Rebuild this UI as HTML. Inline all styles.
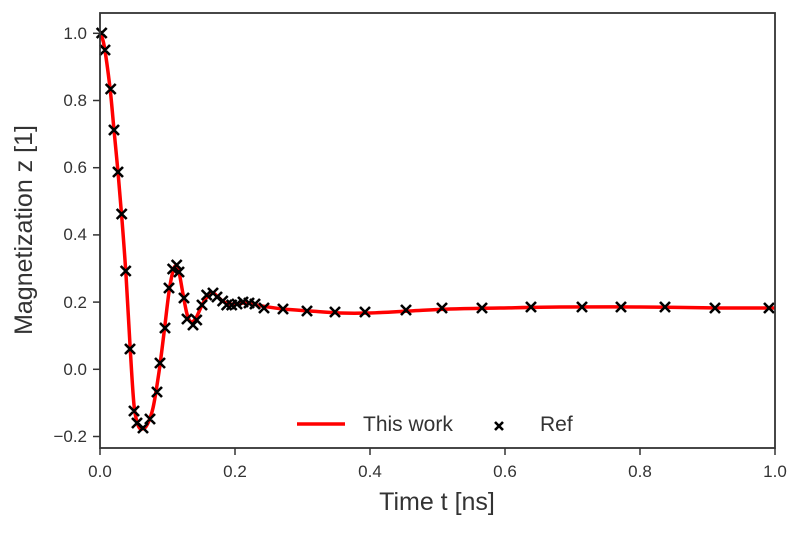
<!DOCTYPE html>
<html><head><meta charset="utf-8"><style>
body{margin:0;background:#fff}
text{font-family:"Liberation Sans",sans-serif;fill:#333}
</style></head><body>
<svg id="s" width="800" height="529" xmlns="http://www.w3.org/2000/svg">
<g id="curve"></g>
<g id="marks" stroke="#000" stroke-width="2.6" fill="none"></g>
<rect x="100" y="13" width="675" height="435" fill="none" stroke="#333" stroke-width="1.8"/>
<g stroke="#333" stroke-width="1.5">
<line x1="100" y1="448" x2="100" y2="455"/><line x1="235" y1="448" x2="235" y2="455"/><line x1="370" y1="448" x2="370" y2="455"/><line x1="505" y1="448" x2="505" y2="455"/><line x1="640" y1="448" x2="640" y2="455"/><line x1="775" y1="448" x2="775" y2="455"/>
<line x1="93" y1="33.3" x2="100" y2="33.3"/><line x1="93" y1="100.5" x2="100" y2="100.5"/><line x1="93" y1="167.7" x2="100" y2="167.7"/><line x1="93" y1="234.9" x2="100" y2="234.9"/><line x1="93" y1="302.1" x2="100" y2="302.1"/><line x1="93" y1="369.3" x2="100" y2="369.3"/><line x1="93" y1="436.5" x2="100" y2="436.5"/>
</g>
<g font-size="17" text-anchor="middle">
<text x="100" y="477">0.0</text><text x="235" y="477">0.2</text><text x="370" y="477">0.4</text><text x="505" y="477">0.6</text><text x="640" y="477">0.8</text><text x="775" y="477">1.0</text>
</g>
<g font-size="17" text-anchor="end">
<text x="87" y="39">1.0</text><text x="87" y="106">0.8</text><text x="87" y="173">0.6</text><text x="87" y="240">0.4</text><text x="87" y="308">0.2</text><text x="87" y="375">0.0</text><text x="87" y="442">−0.2</text>
</g>
<text x="437" y="510" font-size="25" text-anchor="middle">Time t [ns]</text>
<text transform="translate(32,230) rotate(-90)" font-size="25" text-anchor="middle">Magnetization z [1]</text>
<line x1="297" y1="424" x2="345" y2="424" stroke="#f00" stroke-width="3.5"/>
<text x="363" y="431" font-size="21">This work</text>
<path d="M495,422 l8,8 M503,422 l-8,8" stroke="#000" stroke-width="2.6"/>
<text x="540" y="431" font-size="21">Ref</text>
</svg>
<script>
var M=[[101.7,33],[105,50],[110.7,89],[114,130],[118,172],[121.7,214],[125.7,271],[130,349],[134,411],[137,423],[143,428],[150,419],[157,392],[160,363],[165,328],[169,288],[172.7,269],[176.7,265],[179,272],[184,298],[187,319],[193,325],[196.7,320],[202,305],[206.7,295],[213,293],[217,297],[222.7,301],[226.7,305],[231.7,305],[237,304],[243,302],[249,303],[255,304],[264,308],[283,309],[307,311],[335,312],[365,312],[406,310],[442,308],[482,308],[531,307],[582,307],[621,307],[665,307],[715,308],[769,308]];
var C=[[100,33],[104,45],[110,88],[114,130],[118,172],[122,220],[126,275],[130,345],[134,405],[138,425],[142,429],[147,425],[153,408],[159,372],[164,333],[169,292],[173,271],[176,266],[179,272],[183,294],[187,314],[191,322],[196,318],[202,305],[208,296],[213,293],[218,297],[224,302],[230,304],[237,304],[244,303],[252,304],[262,306],[283,309],[310,311],[340,313],[370,313],[410,311],[450,309],[500,308],[560,307],[640,307],[720,308],[775,308]];
var d="M"+C[0];
for(var i=0;i<C.length-1;i++){var p0=C[Math.max(i-1,0)],p1=C[i],p2=C[i+1],p3=C[Math.min(i+2,C.length-1)];
d+=" C"+(p1[0]+(p2[0]-p0[0])/6)+","+(p1[1]+(p2[1]-p0[1])/6)+" "+(p2[0]-(p3[0]-p1[0])/6)+","+(p2[1]-(p3[1]-p1[1])/6)+" "+p2[0]+","+p2[1];}
var ns="http://www.w3.org/2000/svg";
var pth=document.createElementNS(ns,"path");pth.setAttribute("d",d);pth.setAttribute("fill","none");pth.setAttribute("stroke","#f00");pth.setAttribute("stroke-width","3.5");pth.setAttribute("stroke-linejoin","round");
document.getElementById("curve").appendChild(pth);
var g=document.getElementById("marks"),s="";
M.forEach(function(p){var x=p[0],y=p[1];s+="M"+(x-5)+","+(y-5)+" l10,10 M"+(x+5)+","+(y-5)+" l-10,10 ";});
var mp=document.createElementNS(ns,"path");mp.setAttribute("d",s);g.appendChild(mp);
</script>
</body></html>
